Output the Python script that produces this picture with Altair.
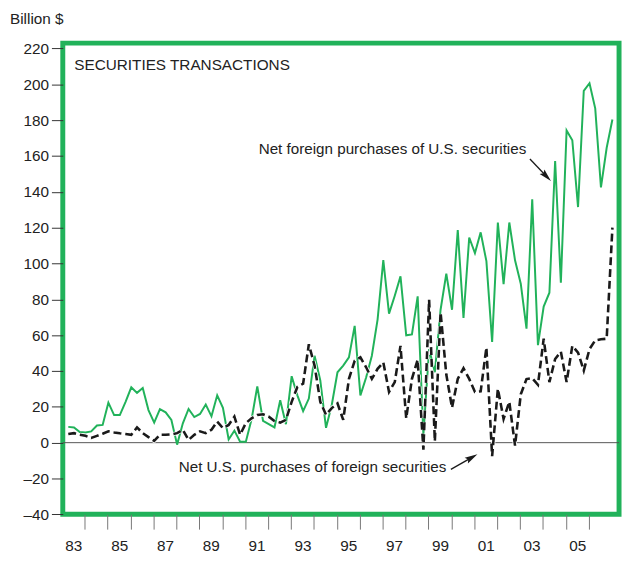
import altair as alt
import pandas as pd

# ---------------- data (quarterly, 1983Q1 - 2006Q4, billion $) ----------------
first_year = 1983
quarters_per_year = 4

foreign_purchases_of_us = [
    8.8, 8.5, 5.9, 5.7, 6.3, 9.6, 9.9, 22.3, 15.4, 15.4, 22.8, 30.9,
    27.8, 30.5, 18.2, 11.2, 18.7, 16.9, 12.7, -1.1, 10.8, 18.8, 14.3, 16.0,
    21.3, 14.7, 26.4, 19.5, 1.8, 6.7, 0.5, 0.5, 13.0, 31.4, 12.1, 10.3,
    8.5, 23.7, 10.3, 37.1, 26.4, 17.6, 24.6, 48.5, 34.7, 8.3, 21.0, 39.3,
    43.0, 47.6, 65.2, 26.4, 36.4, 48.5, 68.7, 101.9, 72.0, 82.0, 92.8, 59.9,
    60.4, 81.7, 4.4, 52.2, 39.3, 74.2, 94.4, 74.2, 118.7, 69.6, 114.5, 105.8,
    117.4, 101.3, 56.2, 122.9, 88.5, 122.9, 101.8, 88.7, 63.6, 135.8, 54.4, 76.0,
    83.7, 157.2, 89.3, 174.3, 168.8, 131.5, 196.4, 200.6, 186.6, 142.5, 164.6, 180.4,
]

us_purchases_of_foreign = [
    4.8, 5.3, 4.4, 3.8, 2.6, 3.8, 5.0, 6.3, 5.7, 5.2, 4.8, 4.4,
    8.5, 5.3, 3.1, 1.0, 4.4, 4.4, 4.6, 5.3, 7.2, 1.5, 4.4, 6.3,
    5.3, 7.2, 11.8, 8.1, 9.9, 14.5, 4.4, 10.9, 13.6, 15.4, 15.8, 14.5,
    12.1, 11.2, 12.7, 22.8, 31.1, 32.9, 54.9, 43.0, 22.8, 15.5, 19.3, 21.9,
    12.7, 35.6, 45.7, 47.6, 42.1, 35.6, 41.2, 44.8, 28.3, 33.8, 54.0, 13.6,
    35.6, 46.3, -3.9, 79.7, 0.8, 72.7, 38.0, 19.5, 35.6, 41.5, 35.6, 28.3,
    28.6, 53.1, -7.5, 30.1, 13.2, 22.8, -1.7, 27.0, 35.5, 36.0, 32.3, 58.0,
    33.8, 46.7, 50.7, 33.8, 54.0, 50.3, 40.2, 52.2, 57.1, 57.7, 58.0, 120.0,
]

y_tick_values = [-40, -20, 0, 20, 40, 60, 80, 100, 120, 140, 160, 180, 200, 220]
x_tick_years = list(range(1984, 2007))

# annotation texts
title_text = "Billion $"
panel_text = "SECURITIES TRANSACTIONS"
green_label = "Net foreign purchases of U.S. securities"
black_label = "Net U.S. purchases of foreign securities"

GREEN = "#21b25a"
BLACK = "#1a1a1a"
FONT = "Liberation Sans"

n = len(foreign_purchases_of_us)
t = [first_year + (i + 1) / quarters_per_year + 0.03 for i in range(n)]
df = pd.DataFrame({
    "t": t,
    "foreign": foreign_purchases_of_us,
    "us": us_purchases_of_foreign,
})

x_scale = alt.Scale(domain=[1983.04, 2007.32], nice=False, zero=False)
y_scale = alt.Scale(domain=[-40, 223], nice=False, zero=False)

x_axis = alt.Axis(
    values=x_tick_years, title=None, domain=False, grid=False,
    tickSize=15, tickColor="#777777", tickWidth=1,
    labelExpr="datum.value % 2 == 0 ? substring(toString(datum.value - 1), 2, 4) : ''",
    labelOffset=-11.6, labelPadding=10, labelFontSize=15.5, labelColor="#222222",
    labelOverlap=False, labelFlush=False, labelFont=FONT,
)
y_axis = alt.Axis(
    values=y_tick_values, title=None, domain=False, grid=False,
    tickSize=11.5, tickColor="#333333", tickWidth=1,
    labelPadding=3, labelFontSize=15.5, labelColor="#222222",
    labelOverlap=False, labelFlush=False, labelFont=FONT,
    labelExpr="datum.value < 0 ? '\u2013' + toString(-datum.value) : toString(datum.value)",
)

X = alt.X("t:Q", scale=x_scale, axis=x_axis)

zero_line = alt.Chart(pd.DataFrame({"z": [0]})).mark_rule(
    color="#555555", strokeWidth=1
).encode(y=alt.Y("z:Q", scale=y_scale, axis=y_axis))

green_line = alt.Chart(df).mark_line(color=GREEN, strokeWidth=2).encode(
    x=X, y=alt.Y("foreign:Q", scale=y_scale, axis=y_axis)
)

black_casing = alt.Chart(df).mark_line(
    color="white", strokeWidth=4.2, strokeDash=[8, 4]
).encode(x=X, y=alt.Y("us:Q", scale=y_scale, axis=y_axis))

black_line = alt.Chart(df).mark_line(
    color=BLACK, strokeWidth=2.6, strokeDash=[8, 4]
).encode(x=X, y=alt.Y("us:Q", scale=y_scale, axis=y_axis))

texts = pd.DataFrame({
    "x": [1980.735, 1983.54, 2003.27, 1999.78],
    "y": [236.7, 210.9, 164.0, -13.9],
    "label": [title_text, panel_text, green_label, black_label],
    "align": ["left", "left", "right", "right"],
    "size": [15.5, 15.5, 15.4, 15.4],
})

def text_layer(row):
    return alt.Chart(pd.DataFrame([row])).mark_text(
        align=row["align"], baseline="middle", fontSize=row["size"],
        font=FONT, color="#222222",
    ).encode(
        x=alt.X("x:Q", scale=x_scale, axis=x_axis),
        y=alt.Y("y:Q", scale=y_scale, axis=y_axis),
        text="label:N",
    )

text_layers = [text_layer(r) for r in texts.to_dict("records")]

arrows = pd.DataFrame({
    "x0": [2003.43, 1999.98],
    "y0": [158.35, -14.9],
    "x1": [2004.125, 2000.86],
    "y1": [149.0, -8.5],
    "angle": [136, 60.6],
})

arrow_shafts = alt.Chart(arrows).mark_rule(color=BLACK, strokeWidth=1.3).encode(
    x=alt.X("x0:Q", scale=x_scale, axis=x_axis),
    y=alt.Y("y0:Q", scale=y_scale, axis=y_axis),
    x2="x1:Q",
    y2="y1:Q",
)

arrow_heads = alt.Chart(arrows).mark_point(
    shape="M0,-1L0.45,0.75L0,0.45L-0.45,0.75Z",
    filled=True, opacity=1, size=220, color=BLACK, strokeWidth=0,
).encode(
    x=alt.X("x1:Q", scale=x_scale, axis=x_axis),
    y=alt.Y("y1:Q", scale=y_scale, axis=y_axis),
    angle=alt.Angle("angle:Q", scale=None),
)

chart = alt.layer(
    zero_line, green_line, black_casing, black_line,
    *text_layers, arrow_shafts, arrow_heads,
).properties(
    width=563.5,
    height=477.3,
    autosize=alt.AutoSizeParams(type="none"),
    padding={"left": 55.5, "top": 32, "right": 4, "bottom": 45},
).configure(
    font=FONT, background="white"
).configure_view(
    stroke=GREEN, strokeWidth=5
)

chart.save("out.html", embed_options={"renderer": "svg", "actions": False})
